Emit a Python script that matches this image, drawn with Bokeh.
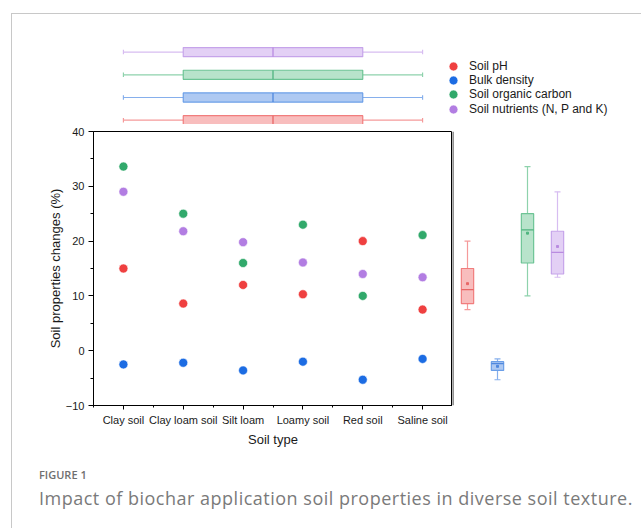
import numpy as np
from bokeh.plotting import figure
from bokeh.layouts import column, row
from bokeh.models import Range1d, FixedTicker, Legend, LegendItem, Div, Span
from bokeh.embed import file_html
from bokeh.resources import INLINE

# ---------------- data ----------------
soil_types = ["Clay soil", "Clay loam soil", "Silt loam", "Loamy soil", "Red soil", "Saline soil"]
series_names = ["Soil pH", "Bulk density", "Soil organic carbon", "Soil nutrients (N, P and K)"]
soil_ph = [15.0, 8.6, 12.0, 10.3, 20.0, 7.5]
bulk_density = [-2.5, -2.2, -3.6, -2.0, -5.3, -1.5]
soil_organic_carbon = [33.6, 25.0, 16.0, 23.0, 10.0, 21.1]
soil_nutrients = [29.0, 21.8, 19.8, 16.1, 14.0, 13.4]
y_ticks = [-10, 0, 10, 20, 30, 40]
y_tick_labels = ["\u221210", "0", "10", "20", "30", "40"]

series_values = [soil_ph, bulk_density, soil_organic_carbon, soil_nutrients]
dot_colors = ["#EF4040", "#1C6CE3", "#31A96B", "#B27DE2"]
box_fill = ["#F8BDBD", "#AEC9F2", "#B8E3CB", "#E3D0F5"]
box_line = ["#F17D7D", "#6B9FE8", "#6DC495", "#C6A4EA"]
whisk_col = ["#F59A9A", "#86AFEC", "#8ED2AC", "#D7BDF1"]
med_col = ["#E86666", "#4F88DE", "#4FB47F", "#B98BE0"]

FONT = "Liberation Sans"
TOPB = 7  # top border of main panels (room for the "40" label)


def hinge_stats(v):
    s = sorted(v)
    n = len(s)
    lower = s[:(n + 1) // 2]
    upper = s[n // 2:]
    return dict(lo=min(s), q1=float(np.median(lower)), med=float(np.median(s)),
                q3=float(np.median(upper)), hi=max(s), mean=float(np.mean(s)))


positions = list(range(1, len(soil_types) + 1))

# ---------------- main scatter ----------------
px_per_cat = 359 / 6.0
p = figure(width=440, height=329 + TOPB, x_range=Range1d(0.5, 6.5), y_range=Range1d(-10, 40),
           output_backend="svg", toolbar_location=None,
           min_border_left=81, min_border_right=0, min_border_top=TOPB, min_border_bottom=55)
p.xgrid.visible = False
p.ygrid.visible = False
p.outline_line_color = "black"
p.outline_line_width = 1
p.background_fill_color = "white"

for vals, c in zip(series_values, dot_colors):
    p.scatter(positions, vals, size=9, fill_color=c, line_color="white", line_width=0.6)

xa = p.xaxis[0]
xa.ticker = FixedTicker(ticks=positions, minor_ticks=[x - 0.5 for x in positions] + [positions[-1] + 0.5])
xa.major_label_overrides = {pos: name for pos, name in zip(positions, soil_types)}
xa.axis_label = "Soil type"
ya = p.yaxis[0]
ya.ticker = FixedTicker(ticks=y_ticks, minor_ticks=[t + 5 for t in y_ticks[:-1]])
ya.major_label_overrides = {t: l for t, l in zip(y_ticks, y_tick_labels)}
ya.axis_label = "Soil properties changes (%)"
for ax in (xa, ya):
    ax.axis_line_color = "black"
    ax.major_tick_line_color = "black"
    ax.minor_tick_line_color = "black"
    ax.major_tick_in = 0
    ax.minor_tick_in = 0
    ax.major_label_text_font = FONT
    ax.major_label_text_font_size = "11px"
    ax.major_label_text_color = "#1a1a1a"
    ax.axis_label_text_font = FONT
    ax.axis_label_text_font_size = "13px"
    ax.axis_label_text_font_style = "normal"
    ax.axis_label_text_color = "#1a1a1a"
xa.major_tick_out = 4
xa.minor_tick_out = 2
ya.major_tick_out = 5
ya.minor_tick_out = 3
xa.major_label_standoff = 4
xa.axis_label_standoff = 3
ya.major_label_standoff = 4
ya.axis_label_standoff = 0

# ---------------- right box plots (y distribution) ----------------
r = figure(width=181, height=329 + TOPB, x_range=Range1d(0.5, 0.5 + 181 / 30.0), y_range=p.y_range,
           output_backend="svg", toolbar_location=None, x_axis_type=None, y_axis_type=None,
           min_border_left=0, min_border_right=0, min_border_top=TOPB, min_border_bottom=55)
r.xgrid.visible = False
r.ygrid.visible = False
r.outline_line_color = None
r.add_layout(Span(location=0.5, dimension="height", line_color="#6e6e6e", line_width=2.5))

bw, cw = 0.41, 0.2
for i, vals in enumerate(series_values):
    st = hinge_stats(vals)
    x = i + 1
    r.segment([x, x], [st["lo"], st["q3"]], [x, x], [st["q1"], st["hi"]], line_color=whisk_col[i], line_width=1.2)
    r.segment([x - cw / 2, x - cw / 2], [st["lo"], st["hi"]], [x + cw / 2, x + cw / 2], [st["lo"], st["hi"]],
              line_color=whisk_col[i], line_width=1.2)
    r.vbar(x=[x], bottom=[st["q1"]], top=[st["q3"]], width=bw, fill_color=box_fill[i],
           line_color=box_line[i], line_width=1.2)
    r.segment([x - bw / 2], [st["med"]], [x + bw / 2], [st["med"]], line_color=med_col[i], line_width=1.3)
    r.scatter([x], [st["mean"]], marker="square", size=2, color=med_col[i])

# ---------------- top box plots (x distribution) ----------------
top_h = 117 - TOPB
top_frame_w = 426 - 81
y0 = 1 - (11.3 - TOPB) / 22.7
t = figure(width=426, height=top_h, x_range=Range1d(0.5, 0.5 + top_frame_w / px_per_cat),
           y_range=Range1d(y0, y0 + top_h / 22.7),
           output_backend="svg", toolbar_location=None, x_axis_type=None, y_axis_type=None,
           min_border_left=81, min_border_right=0, min_border_top=0, min_border_bottom=0)
t.xgrid.visible = False
t.ygrid.visible = False
t.outline_line_color = None
bh, ch = 0.4, 0.2
for i, vals in enumerate(series_values):
    st = hinge_stats(positions)
    y = i + 1
    t.segment([st["lo"], st["q3"]], [y, y], [st["q1"], st["hi"]], [y, y], line_color=whisk_col[i], line_width=1.2)
    t.segment([st["lo"], st["hi"]], [y - ch / 2, y - ch / 2], [st["lo"], st["hi"]], [y + ch / 2, y + ch / 2],
              line_color=whisk_col[i], line_width=1.2)
    t.hbar(y=[y], left=[st["q1"]], right=[st["q3"]], height=bh, fill_color=box_fill[i],
           line_color=box_line[i], line_width=1.2)
    t.segment([st["med"]], [y - bh / 2], [st["med"]], [y + bh / 2], line_color=med_col[i], line_width=1.3)

# ---------------- legend (one single-item legend per series, 14.3 px apart) ----------------
lg = figure(width=195, height=top_h, x_range=Range1d(0, 1), y_range=Range1d(0, 1),
            output_backend="svg", toolbar_location=None, x_axis_type=None, y_axis_type=None,
            min_border_left=0, min_border_right=0, min_border_top=0, min_border_bottom=0)
lg.xgrid.visible = False
lg.ygrid.visible = False
lg.outline_line_color = None
first_center_from_bottom = top_h - (65.7 - 14)
for k, (name, c) in enumerate(zip(series_names, dot_colors)):
    rr = lg.scatter(x=[-5], y=[-5], size=9, fill_color=c, line_color="white", line_width=0.6)
    loc_y = int(round(first_center_from_bottom - 14.33 * k - 11))
    leg = Legend(items=[LegendItem(label=name, renderers=[rr])], location=(4, loc_y),
                 padding=0, margin=0, spacing=0,
                 glyph_width=22, glyph_height=22, label_height=14, label_standoff=5,
                 label_text_font=FONT, label_text_font_size="12px", label_text_color="#1a1a1a",
                 border_line_color=None, background_fill_alpha=0)
    lg.add_layout(leg)

# ---------------- caption ----------------
cap = Div(width=621, height=64, text=(
    "<div style=\"padding-left:22px;padding-top:0px;font-family:'Open Sans';color:#6f6f6f;\">"
    "<div style=\"font-size:11px;font-weight:600;line-height:19px;\">FIGURE 1</div>"
    "<div style=\"font-size:18px;line-height:28px;color:#7a7a7a;white-space:nowrap;letter-spacing:0.5px;\">"
    "Impact of biochar application soil properties in diverse soil texture.</div></div>"))

inner = column(row(t, lg), row(p, r), cap, margin=(13, 0, 0, 11),
               styles={"border-top": "1px solid #c8c8c8", "border-left": "1px solid #c8c8c8"})

open("out.html", "w").write(file_html(inner, INLINE))
